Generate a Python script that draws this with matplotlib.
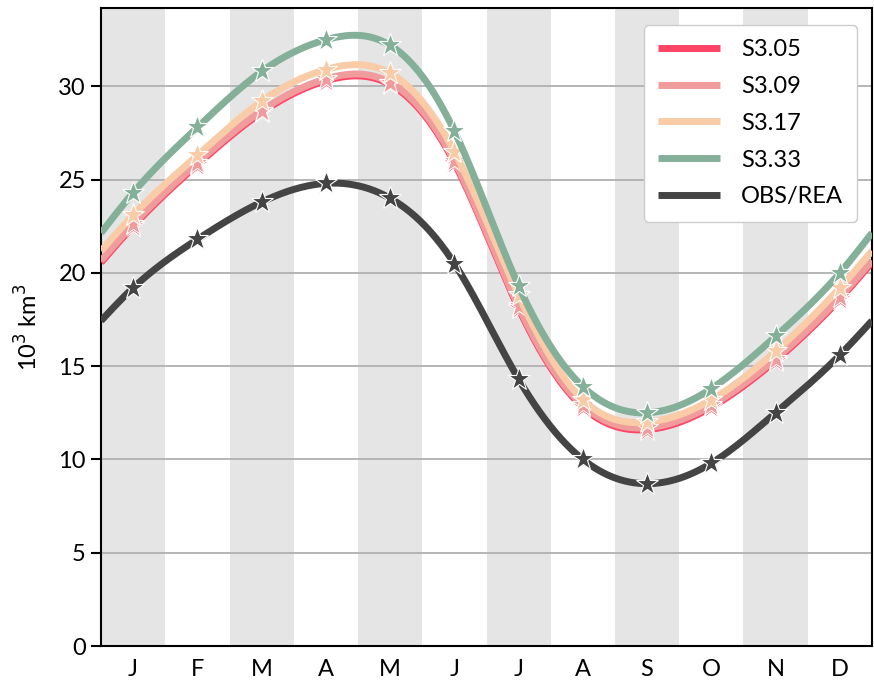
import numpy as np
import matplotlib
matplotlib.use("Agg")
import matplotlib.pyplot as plt

months = ["J", "F", "M", "A", "M", "J", "J", "A", "S", "O", "N", "D"]
s305 = [22.5, 25.8, 28.6, 30.3, 30.1, 25.9, 18.1, 12.8, 11.6, 12.8, 15.3, 18.6]
s309 = [22.6, 25.9, 28.7, 30.4, 30.2, 26.0, 18.2, 12.9, 11.7, 12.9, 15.4, 18.7]
s317 = [23.1, 26.3, 29.2, 30.9, 30.7, 26.5, 18.8, 13.2, 12.0, 13.2, 15.8, 19.2]
s333 = [24.3, 27.8, 30.8, 32.5, 32.2, 27.6, 19.3, 13.9, 12.5, 13.8, 16.6, 20.0]
obs = [19.2, 21.8, 23.8, 24.8, 24.0, 20.5, 14.3, 10.0, 8.7, 9.8, 12.5, 15.6]

series = [("S3.05", s305, "#FF4466"),
          ("S3.09", s309, "#F09C9C"),
          ("S3.17", s317, "#F9CBA7"),
          ("S3.33", s333, "#84B09A"),
          ("OBS/REA", obs, "#444444")]


def periodic_spline(y, xs):
    y = np.asarray(y, float)
    n = len(y)
    A = np.zeros((n, n))
    b = np.zeros(n)
    for i in range(n):
        A[i, (i - 1) % n] = 1
        A[i, i] = 4
        A[i, (i + 1) % n] = 1
        b[i] = 6 * (y[(i + 1) % n] - 2 * y[i] + y[(i - 1) % n])
    M = np.linalg.solve(A, b)
    out = []
    for x in xs:
        t = (x - 1) % n
        i = int(np.floor(t))
        u = t - i
        j = (i + 1) % n
        val = ((1 - u) * y[i] + u * y[j]
               + ((1 - u) ** 3 - (1 - u)) * M[i] / 6
               + (u ** 3 - u) * M[j] / 6)
        out.append(val)
    return np.array(out)


plt.rcParams['font.family'] = ['Lato', 'DejaVu Sans']
fig = plt.figure(figsize=(8.74, 6.89), dpi=100)
ax = fig.add_axes([0.1156, 0.0624, 0.8821, 0.926])

x = np.arange(1, 13)
for i in range(0, 12, 2):
    ax.axvspan(x[i] - 0.5, x[i] + 0.5, color="#E5E5E5", lw=0, zorder=0)
ax.yaxis.grid(True, color="#B0B0B0", lw=1.3, zorder=1)
ax.set_axisbelow(True)

xs = np.linspace(0.5, 12.5, 600)
for k, (name, vals, col) in enumerate(series):
    ax.plot(xs, periodic_spline(vals, xs), color=col, lw=5, label=name,
            zorder=3 + k, solid_capstyle="butt")
    ax.plot(x, vals, ls="none", marker="*", ms=17, mfc=col, mec="white",
            mew=0.8, zorder=3 + k)

ax.set_xlim(0.5, 12.5)
ax.set_ylim(0, 34.2)
ax.set_xticks(x)
ax.set_xticklabels(months)
ax.set_yticks([0, 5, 10, 15, 20, 25, 30])
ax.tick_params(axis="x", length=0, labelsize=17, pad=9)
ax.tick_params(axis="y", length=7, width=1.5, labelsize=17, pad=4)
for sp in ax.spines.values():
    sp.set_linewidth(1.5)
ax.set_ylabel("10$^3$ km$^3$", fontsize=17, labelpad=12)

leg = ax.legend(loc="upper right", fontsize=17, handlelength=2.6,
                framealpha=1, edgecolor="#CCCCCC", borderpad=0.6,
                labelspacing=0.67, handletextpad=0.9,
                bbox_to_anchor=(0.996, 0.992))
for h in leg.get_lines():
    h.set_linewidth(5)

fig.savefig("out.png", dpi=100)
